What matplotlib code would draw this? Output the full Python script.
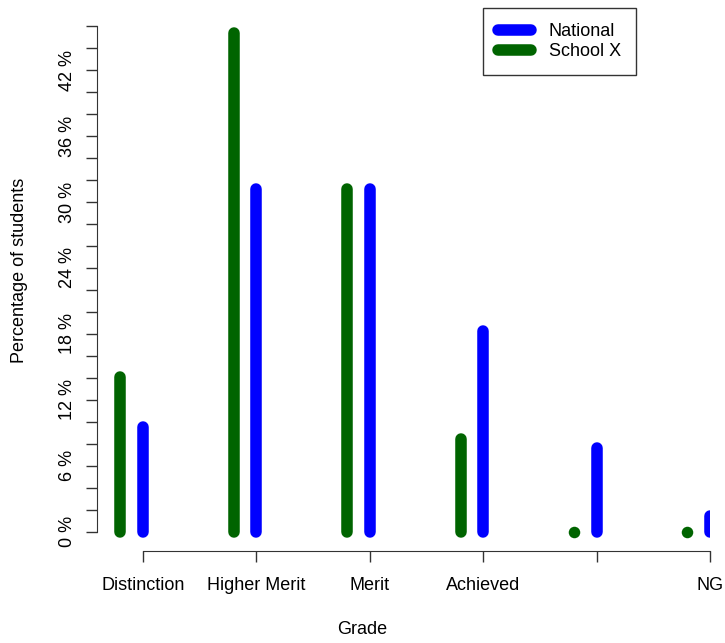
import matplotlib
matplotlib.use("Agg")
import matplotlib.pyplot as plt
from matplotlib.lines import Line2D

plt.rcParams['font.family'] = ['Liberation Sans', 'DejaVu Sans']

# Datos del gráfico
grados = ["Distinction", "Higher Merit", "Merit", "Achieved", "Not Achieved", "NG"]
etiquetas_x = ["Distinction", "Higher Merit", "Merit", "Achieved", "", "NG"]
nacional = [9.5, 31.2, 31.2, 18.3, 7.6, 1.4]
escuela_x = [14.1, 45.4, 31.2, 8.4, 0.0, 0.0]
ticks_y = list(range(0, 47, 2))
etiquetas_y = [f"{t} %" if t % 6 == 0 else "" for t in ticks_y]

azul = "#0000FF"
verde = "#006400"
ancho = 8.3

fig = plt.figure(figsize=(7.25, 6.43), dpi=100)
ax = fig.add_axes([97 / 725, 92 / 643, 613 / 725, 538 / 643])

pos = list(range(1, len(grados) + 1))
for p, v in zip(pos, escuela_x):
    ax.plot([p - 0.2, p - 0.2], [0, v], color=verde, lw=ancho, solid_capstyle='round')
    if v == 0:
        # punto para valores en cero
        ax.plot([p - 0.2], [0], 'o', color=verde, ms=ancho, mew=0)
for p, v in zip(pos, nacional):
    ax.plot([p, p], [0, v], color=azul, lw=ancho, solid_capstyle='round')

ax.set_xlim(1 - 46 / 113.4, 6)
ax.set_ylim(-1.75, 47.2)

for lado in ['top', 'right']:
    ax.spines[lado].set_visible(False)
ax.spines['left'].set_bounds(0, 46)
ax.spines['bottom'].set_bounds(1, 6)
ax.spines['left'].set_color('#333333')
ax.spines['bottom'].set_color('#333333')

ax.set_yticks(ticks_y)
ax.set_yticklabels(etiquetas_y, rotation=90, va='center', fontsize=13)
ax.set_xticks(pos)
ax.set_xticklabels(etiquetas_x, fontsize=13)
ax.tick_params(axis='both', length=8, width=1, color='#333333')
ax.tick_params(axis='y', pad=7)
ax.tick_params(axis='x', pad=11)

ax.set_xlabel('Grade', fontsize=13)
ax.set_ylabel('Percentage of students', fontsize=13)
ax.xaxis.set_label_coords((362 - 97) / 613, (551 - 630) / 538)
ax.xaxis.label.set_va('center')
ax.yaxis.set_label_coords((20 - 97) / 613, (551 - 270) / 538)
ax.yaxis.label.set_va('center')

manijas = [Line2D([], [], color=azul, lw=ancho, solid_capstyle='round'),
           Line2D([], [], color=verde, lw=ancho, solid_capstyle='round')]
leyenda = fig.legend(manijas, ['National', 'School X'], loc='upper left',
                     bbox_to_anchor=(483 / 725, 1 - 8 / 643), fontsize=13,
                     frameon=True, fancybox=False, edgecolor='black',
                     handlelength=1.8, handletextpad=1.0, borderpad=0.85,
                     labelspacing=0.15, borderaxespad=0)
leyenda.get_frame().set_linewidth(1)

fig.savefig('out.png', dpi=100)
